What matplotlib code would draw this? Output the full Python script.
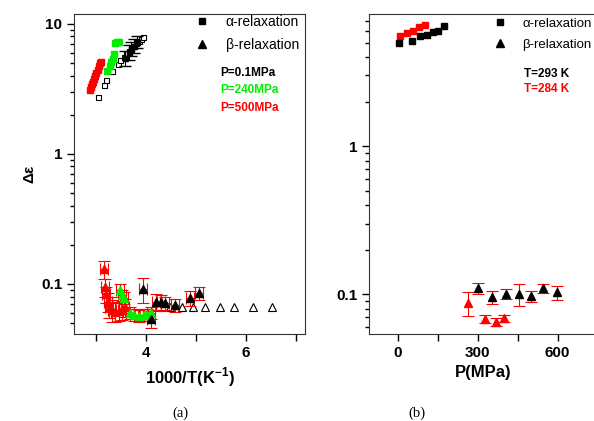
import numpy as np
import matplotlib.pyplot as plt
from matplotlib.ticker import FixedLocator, NullFormatter, FuncFormatter
from matplotlib.lines import Line2D

plt.rcParams['font.family'] = ['Liberation Sans', 'DejaVu Sans']

# ---- (a) alpha relaxation, 1000/T vs delta eps
a_open_x = [3.03, 3.15, 3.20, 3.31, 3.43, 3.48, 3.55, 3.60, 3.65, 3.69, 3.75, 3.80, 3.85, 3.89, 3.93]
a_open_y = [2.75, 3.37, 3.71, 4.37, 4.9, 5.28, 5.6, 5.95, 6.23, 6.46, 6.78, 7.1, 7.44, 7.7, 7.9]
a_black_x = [3.58, 3.65, 3.70, 3.75, 3.81]
a_black_y = [5.45, 6.1, 6.5, 6.8, 7.3]
a_black_err = [0.7, 0.8, 0.8, 0.8, 0.8]
a_green_x = [3.21, 3.27, 3.30, 3.33, 3.35, 3.38, 3.41, 3.45]
a_green_y = [4.3, 4.75, 5.13, 5.35, 5.85, 7.18, 7.2, 7.2]
a_red_x = [2.87, 2.89, 2.91, 2.93, 2.96, 2.98, 3.00, 3.03, 3.05, 3.07, 3.09]
a_red_y = [3.1, 3.26, 3.45, 3.6, 3.75, 3.98, 4.18, 4.43, 4.75, 4.99, 5.13]

# ---- (a) beta relaxation
b_open_x = [4.48, 4.71, 4.93, 5.18, 5.47, 5.76, 6.13, 6.51]
b_open_y = [0.066, 0.066, 0.066, 0.066, 0.066, 0.066, 0.066, 0.066]
b_black_x = [3.93, 4.09, 4.19, 4.30, 4.37, 4.57, 4.88, 5.05]
b_black_y = [0.091, 0.054, 0.073, 0.072, 0.071, 0.069, 0.078, 0.085]
b_black_err = [0.02, 0.008, 0.01, 0.01, 0.008, 0.008, 0.01, 0.01]
b_green_x = [3.48, 3.51, 3.55, 3.68, 3.75, 3.85, 3.95, 4.01, 4.10]
b_green_y = [0.090, 0.082, 0.078, 0.060, 0.058, 0.057, 0.058, 0.058, 0.060]
b_green_err = [0.01, 0.008, 0.008, 0.006, 0.006, 0.006, 0.006, 0.006, 0.006]
b_red_x = [3.15, 3.18, 3.20, 3.23, 3.26, 3.31, 3.38, 3.45, 3.51, 3.58]
b_red_y = [0.130, 0.094, 0.083, 0.073, 0.067, 0.063, 0.061, 0.062, 0.063, 0.066]
b_red_err = [0.02, 0.015, 0.012, 0.012, 0.012, 0.012, 0.01, 0.01, 0.01, 0.01]

# ---- (b) pressure dependence
p_a293 = [5, 52, 84, 109, 134, 152, 175]
d_a293 = [4.95, 5.16, 5.52, 5.64, 5.93, 6.03, 6.45]
p_a284 = [9, 34, 58, 80, 102]
d_a284 = [5.58, 5.82, 6.03, 6.34, 6.59]
p_b293 = [302, 352, 405, 455, 500, 546, 598]
d_b293 = [0.110, 0.096, 0.101, 0.101, 0.097, 0.110, 0.103]
e_b293 = [0.01, 0.01, 0.008, 0.017, 0.008, 0.008, 0.011]
p_b284 = [262, 327, 367, 400]
d_b284 = [0.087, 0.068, 0.065, 0.069]
e_b284 = [0.016, 0.004, 0.004, 0.004]

fig = plt.figure(figsize=(5.94, 4.21), dpi=100)
ax1 = fig.add_axes([74/594, 1-334/421, 231/594, 320/421])
ax2 = fig.add_axes([369/594, 1-334/421, 228/594, 320/421])

green = '#00ee00'
eb = dict(ecolor='red', elinewidth=0.8, capsize=4, capthick=0.8, linestyle='none')

# panel a
ax1.plot(a_open_x, a_open_y, 's', mfc='white', mec='black', ms=3.6, mew=0.8)
ax1.errorbar(a_black_x, a_black_y, yerr=a_black_err, fmt='s', color='black', ms=3.6,
             ecolor='black', elinewidth=0.8, capsize=4)
ax1.plot(a_green_x, a_green_y, 's', color=green, ms=3.8)
ax1.plot(a_red_x, a_red_y, 's', color='red', ms=3.8)

ax1.plot(b_open_x, b_open_y, '^', mfc='white', mec='black', ms=6, mew=0.8)
ax1.errorbar(b_red_x, b_red_y, yerr=b_red_err, xerr=0.08, fmt='^', color='red', ms=6, **eb)
ax1.errorbar(b_green_x, b_green_y, yerr=b_green_err, xerr=0.08, fmt='^', color=green, ms=6, **eb)
ax1.errorbar(b_black_x, b_black_y, yerr=b_black_err, xerr=0.08, fmt='^', color='black', ms=6, **eb)

ax1.set_yscale('log')
ax1.set_xlim(2.56, 7.18)
ax1.set_ylim(0.0412, 11.9)
ax1.xaxis.set_major_locator(FixedLocator([3, 4, 5, 6, 7]))
ax1.xaxis.set_major_formatter(FuncFormatter(lambda v, p: '%d' % v if v in (4, 6) else ''))
ax1.yaxis.set_major_formatter(FuncFormatter(lambda v, p: {10: '10', 1: '1', 0.1: '0.1'}.get(round(v, 3), '')))
ax1.yaxis.set_minor_formatter(NullFormatter())
ax1.set_xlabel('1000/T(K$^{\\mathregular{-1}}$)', fontsize=12, fontweight='bold', labelpad=4)
ax1.set_ylabel('Δε', fontsize=11, fontweight='bold')
ax1.yaxis.set_label_coords(-0.165, 0.5)

# panel b
ax2.plot(p_a284, d_a284, 's', color='red', ms=5)
ax2.plot(p_a293, d_a293, 's', color='black', ms=5)
ax2.errorbar(p_b284, d_b284, yerr=e_b284, fmt='^', color='red', ms=6, **eb)
ax2.errorbar(p_b293, d_b293, yerr=e_b293, fmt='^', color='black', ms=6, **eb)

ax2.set_yscale('log')
ax2.set_xlim(-108, 748)
ax2.set_ylim(0.054, 7.8)
ax2.xaxis.set_major_locator(FixedLocator([0, 150, 300, 450, 600]))
ax2.xaxis.set_major_formatter(FuncFormatter(lambda v, p: '%d' % v if v in (0, 300, 600) else ''))
ax2.yaxis.set_major_formatter(FuncFormatter(lambda v, p: {1: '1', 0.1: '0.1'}.get(round(v, 3), '')))
ax2.yaxis.set_minor_formatter(NullFormatter())
ax2.set_xlabel('P(MPa)', fontsize=12, fontweight='bold', labelpad=4)

for ax in (ax1, ax2):
    ax.tick_params(which='both', direction='out', labelsize=11)
    ax.tick_params(which='major', length=5, width=1)
    ax.tick_params(which='minor', length=3, width=1)
    for lab in ax.get_xticklabels() + ax.get_yticklabels():
        lab.set_fontweight('bold')
    for s in ax.spines.values():
        s.set_color('#333333')

# legends
h_sq = Line2D([], [], marker='s', color='black', ls='none', ms=4.5)
h_tr = Line2D([], [], marker='^', color='black', ls='none', ms=5.5)
ax1.legend([h_sq, h_tr], ['α-relaxation', 'β-relaxation'], loc='upper left', frameon=False,
           fontsize=10, handletextpad=0.7, bbox_to_anchor=(0.44, 1.035), labelspacing=0.6)
ax2.legend([h_sq, h_tr], ['α-relaxation', 'β-relaxation'], loc='upper left', frameon=False,
           fontsize=9.5, handletextpad=0.7, bbox_to_anchor=(0.465, 1.025), labelspacing=0.65)

ax1.text(0.632, 0.816, 'P=0.1MPa', transform=ax1.transAxes, fontsize=8.5, fontweight='bold',
         color='black', va='center')
ax1.text(0.632, 0.762, 'P=240MPa', transform=ax1.transAxes, fontsize=8.5, fontweight='bold',
         color=green, va='center')
ax1.text(0.632, 0.706, 'P=500MPa', transform=ax1.transAxes, fontsize=8.5, fontweight='bold',
         color='red', va='center')
ax2.text(0.68, 0.8125, 'T=293 K', transform=ax2.transAxes, fontsize=8.5, fontweight='bold',
         color='black', va='center')
ax2.text(0.68, 0.7656, 'T=284 K', transform=ax2.transAxes, fontsize=8.5, fontweight='bold',
         color='red', va='center')

fig.text(180/594, 1-413/421, '(a)', ha='center', va='center', fontsize=10.5, family='Liberation Serif')
fig.text(417/594, 1-413/421, '(b)', ha='center', va='center', fontsize=10.5, family='Liberation Serif')

fig.savefig('out.png', dpi=100)
